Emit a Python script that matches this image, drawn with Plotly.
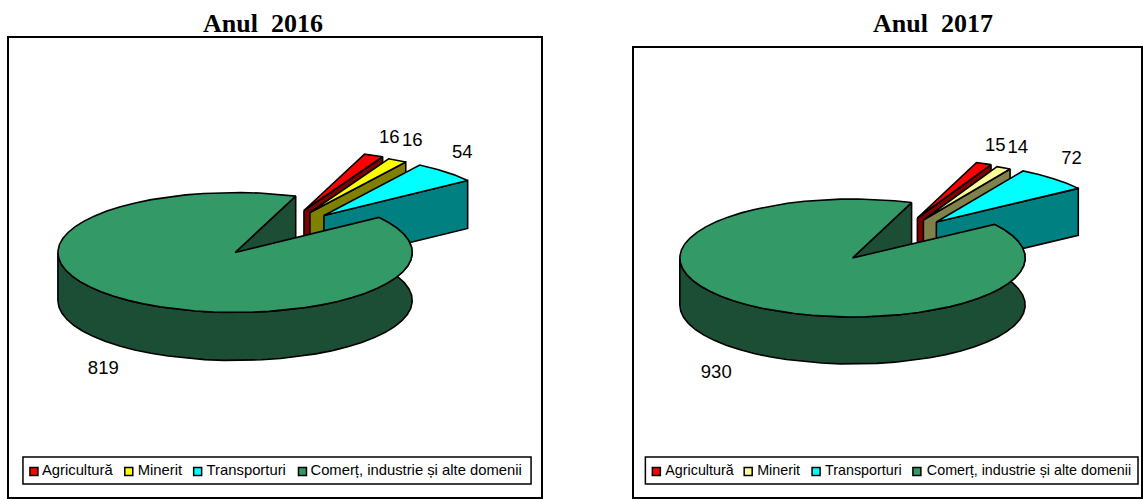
import math
import plotly.graph_objects as go

categories = ["Agricultură", "Minerit", "Transporturi", "Comerț, industrie și alte domenii"]
values_2016 = [16, 16, 54, 819]
values_2017 = [15, 14, 72, 930]
titles = ["Anul\u00a0\u00a02016", "Anul\u00a0\u00a02017"]

top_colors_2016 = ["#FF0000", "#FFFF00", "#00FFFF", "#339966"]
dark_colors_2016 = ["#800000", "#808000", "#008080", "#1C4E36"]
top_colors_2017 = ["#FF0000", "#FFFF99", "#00FFFF", "#339966"]
dark_colors_2017 = ["#800000", "#80804D", "#008080", "#1C4E36"]

START_ANGLE = 20.0
EDGE = 1.6
ARC_STEP = 6.0
FONT = "Liberation Sans, Arial, sans-serif"

left_chart = dict(
    values=values_2016, top=top_colors_2016, dark=dark_colors_2016,
    frame=(9, 542, 38, 497), shift=0.0, centre=(235.5, 252.5), radii=(177.5, 60), depth=48,
    explode=[(69, -42), (75, -40), (89, -37), (0, 0)],
    labels=[(390, 138), (413, 141), (463, 153), (103.5, 369)],
    box=(23, 532, 457, 484), legend_y=471.5, legend_size=14.8,
    marks=[34, 129, 198, 303], texts=[42, 138, 207, 311],
)
right_chart = dict(
    values=values_2017, top=top_colors_2017, dark=dark_colors_2017,
    frame=(635, 1147, 48, 497), shift=1.5, centre=(852.5, 258), radii=(173, 59), depth=47,
    explode=[(65, -40), (71, -38), (84, -36), (0, 0)],
    labels=[(995.5, 146), (1018, 148), (1072, 159), (716, 373)],
    box=(645, 1138.5, 457, 484), legend_y=471.5, legend_size=14.3,
    marks=[656, 748, 816, 917], texts=[665, 757, 825, 927],
)

W, H = 1143, 499
fig = go.Figure()


def point(c, r, deg, ox=0.0, oy=0.0, dz=0.0):
    a = math.radians(deg)
    return c[0] + ox + r[0] * math.sin(a), c[1] + oy - r[1] * math.cos(a) + dz


def arc(c, r, a0, a1, ox=0.0, oy=0.0, dz=0.0):
    n = max(2, int(abs(a1 - a0) / ARC_STEP) + 1)
    return [point(c, r, a0 + (a1 - a0) * i / (n - 1), ox, oy, dz) for i in range(n)]


def poly(pts, fill, xa, ya):
    xs = [p[0] for p in pts] + [pts[0][0]]
    ys = [p[1] for p in pts] + [pts[0][1]]
    fig.add_trace(go.Scatter(x=xs, y=ys, mode="lines", fill="toself", fillcolor=fill,
                             line=dict(color="black", width=EDGE), hoverinfo="skip",
                             showlegend=False, xaxis=xa, yaxis=ya))


def draw(chart, xa, ya):
    c, r, d = chart["centre"], chart["radii"], chart["depth"]
    vals = chart["values"]
    total = sum(vals)
    angle = START_ANGLE
    spans = []
    for v in vals:
        spans.append((angle, angle + v / total * 360))
        angle += v / total * 360
    for (a0, a1), top, dark, (ox, oy) in zip(spans, chart["top"], chart["dark"], chart["explode"]):
        apex = (c[0] + ox, c[1] + oy)
        if a1 - a0 > 180:  # the large slice: front rim, near wall, then its top
            rim_a0, rim_a1 = a0, 270
            rim = arc(c, r, rim_a0, rim_a1) + arc(c, r, rim_a1, rim_a0, dz=d)
            poly(rim, dark, xa, ya)
            corner = point(c, r, a1)
            poly([apex, corner, (corner[0], corner[1] + d), (apex[0], apex[1] + d)], dark, xa, ya)
        else:  # exploded wedge: wall on its clockwise edge, then its top
            corner = point(c, r, a1, ox, oy)
            poly([apex, corner, (corner[0], corner[1] + d), (apex[0], apex[1] + d)], dark, xa, ya)
        poly([apex] + arc(c, r, a0, a1, ox, oy), top, xa, ya)

    # value labels
    fig.add_trace(go.Scatter(x=[p[0] for p in chart["labels"]], y=[p[1] for p in chart["labels"]],
                             text=[str(v) for v in vals], mode="text", textposition="middle center",
                             textfont=dict(family=FONT, size=18.5, color="black"),
                             hoverinfo="skip", showlegend=False, xaxis=xa, yaxis=ya, cliponaxis=False))
    # legend
    y = chart["legend_y"]
    fig.add_trace(go.Scatter(x=chart["marks"], y=[y] * 4, mode="markers",
                             marker=dict(symbol="square", size=8, color=chart["top"],
                                         line=dict(color="black", width=1.5)),
                             hoverinfo="skip", showlegend=False, xaxis=xa, yaxis=ya))
    fig.add_trace(go.Scatter(x=chart["texts"], y=[y] * 4, text=categories, mode="text",
                             textposition="middle right",
                             textfont=dict(family=FONT, size=chart["legend_size"], color="black"),
                             hoverinfo="skip", showlegend=False, xaxis=xa, yaxis=ya))


draw(left_chart, "x", "y")
draw(right_chart, "x2", "y2")


AXIS_STYLE = dict(showgrid=False, zeroline=False, showticklabels=False, ticks="",
                  showline=True, mirror=True, linecolor="black", linewidth=2)


def x_axis(chart):
    lo, hi = chart["frame"][:2]
    s = chart["shift"]
    return dict(domain=[lo / W, min(hi, W) / W], range=[lo - s, min(hi, W) - s], **AXIS_STYLE)


def y_axis(chart):
    lo, hi = chart["frame"][2:]
    return dict(domain=[1 - hi / H, 1 - lo / H], range=[hi, lo], **AXIS_STYLE)


shapes = []
for chart, xr, yr in ((left_chart, "x", "y"), (right_chart, "x2", "y2")):
    b = chart["box"]
    shapes.append(dict(type="rect", xref=xr, yref=yr, x0=b[0], x1=b[1], y0=b[2], y1=b[3],
                       line=dict(color="black", width=1.5), layer="below"))

title_font = dict(family="Liberation Serif, Times New Roman, serif", size=26, color="black")
fig.update_layout(
    width=W, height=H, margin=dict(l=0, r=0, t=0, b=0), showlegend=False,
    paper_bgcolor="white", plot_bgcolor="white",
    xaxis=dict(x_axis(left_chart), anchor="y"), yaxis=dict(y_axis(left_chart), anchor="x"),
    xaxis2=dict(x_axis(right_chart), anchor="y2"), yaxis2=dict(y_axis(right_chart), anchor="x2"),
    shapes=shapes,
    annotations=[
        dict(text=f"<b>{titles[0]}</b>", x=263 / W, y=1 - 23 / H, xref="paper", yref="paper", showarrow=False,
             xanchor="center", yanchor="middle", font=title_font),
        dict(text=f"<b>{titles[1]}</b>", x=935 / W, y=1 - 23 / H, xref="paper", yref="paper", showarrow=False,
             xanchor="center", yanchor="middle", font=title_font),
    ],
)
fig.write_html("out.html", config=dict(displayModeBar=False),
               post_script="document.body.style.margin='0';document.body.style.overflow='hidden';")
